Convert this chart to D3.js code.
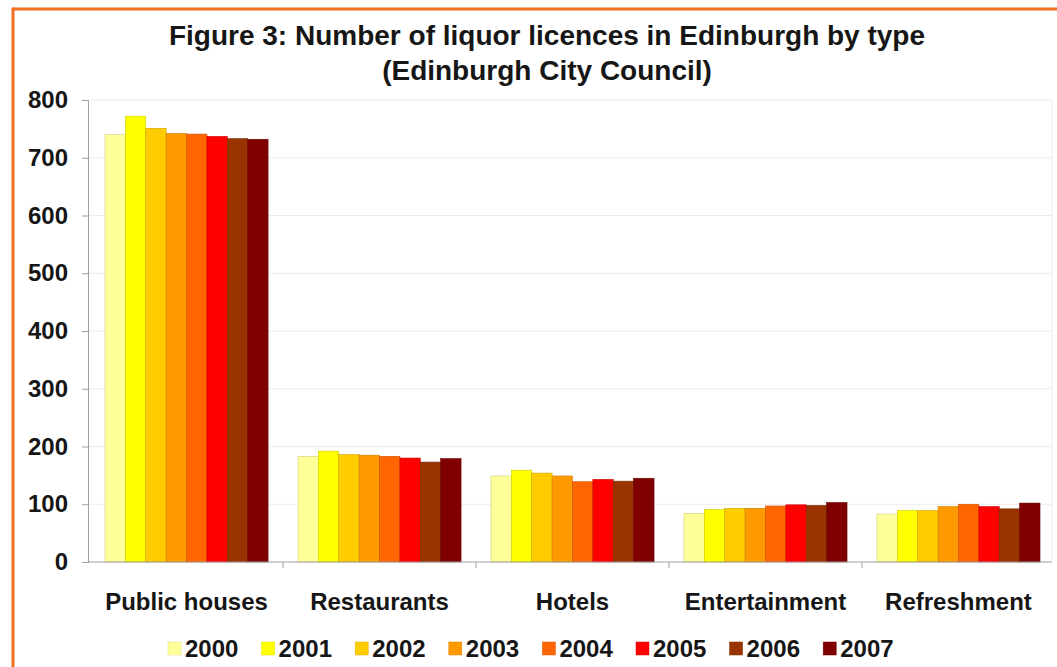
<!DOCTYPE html>
<html>
<head>
<meta charset="utf-8">
<script src="https://cdn.jsdelivr.net/npm/d3@7"></script>
<style>
  html, body { margin: 0; padding: 0; background: #ffffff; }
  svg { display: block; }
  text { font-family: "Liberation Sans", Arial, sans-serif; font-weight: bold; fill: #161616; }
</style>
</head>
<body>
<svg id="chart" width="1057" height="667"></svg>
<script>
// Licence types along the x axis
const categories = ["Public houses", "Restaurants", "Hotels", "Entertainment", "Refreshment"];
// Years shown as series
const years = ["2000", "2001", "2002", "2003", "2004", "2005", "2006", "2007"];
// Number of licences per type, one array per year (same order as categories)
const v2000 = [740, 183, 149, 84, 83];
const v2001 = [772, 192, 159, 91, 89];
const v2002 = [751, 186, 154, 93, 89];
const v2003 = [742, 185, 149, 93, 96];
const v2004 = [741, 183, 139, 97, 100];
const v2005 = [737, 180, 143, 99, 96];
const v2006 = [733, 173, 140, 98, 92];
const v2007 = [732, 179, 145, 103, 102];
const seriesValues = [v2000, v2001, v2002, v2003, v2004, v2005, v2006, v2007];
// Y axis ticks
const yTicks = [0, 100, 200, 300, 400, 500, 600, 700, 800];
const colors = ["#ffff99", "#ffff00", "#ffcc00", "#ff9900", "#ff6600", "#ff0000", "#993300", "#800000"];

const svg = d3.select("#chart");

// Orange page frame
svg.append("line").attr("x1", 13).attr("x2", 1057).attr("y1", 9).attr("y2", 9)
  .attr("stroke", "#f26f22").attr("stroke-width", 3);
svg.append("line").attr("x1", 13).attr("x2", 13).attr("y1", 7.5).attr("y2", 667)
  .attr("stroke", "#f26f22").attr("stroke-width", 3);

// Title
const title = svg.append("g").attr("text-anchor", "middle");
title.append("text").attr("x", 547).attr("y", 45).attr("font-size", 28)
  .text("Figure 3: Number of liquor licences in Edinburgh by type");
title.append("text").attr("x", 547).attr("y", 80).attr("font-size", 28)
  .text("(Edinburgh City Council)");

// Scales
const y = d3.scaleLinear().domain([0, 800]).range([562, 100]);
const x0 = d3.scaleBand().domain(categories).range([90, 1055])
  .paddingInner(0.155).paddingOuter(0.0777);
const x1 = d3.scaleBand().domain(years).range([0, x0.bandwidth()]);

// Gridlines
svg.append("g").selectAll("line").data(yTicks.filter(d => d > 0)).join("line")
  .attr("x1", 88).attr("x2", 1052)
  .attr("y1", d => y(d)).attr("y2", d => y(d))
  .attr("stroke", "#ececec").attr("stroke-width", 1);
svg.append("line").attr("x1", 1052).attr("x2", 1052).attr("y1", 100).attr("y2", 562)
  .attr("stroke", "#ececec");

// Bars
const groups = svg.append("g").selectAll("g").data(categories).join("g")
  .attr("transform", d => `translate(${x0(d)},0)`);
groups.selectAll("rect")
  .data((c, ci) => years.map((yr, yi) => ({ yr, yi, v: seriesValues[yi][ci] })))
  .join("rect")
  .attr("x", d => x1(d.yr))
  .attr("y", d => y(d.v))
  .attr("width", x1.bandwidth())
  .attr("height", d => y(0) - y(d.v))
  .attr("fill", d => colors[d.yi])
  .attr("stroke", d => d3.color(colors[d.yi]).darker(0.6))
  .attr("stroke-width", 0.6);

// Y axis
const yAxis = d3.axisLeft(y).tickValues(yTicks).tickSize(6).tickPadding(14);
const gy = svg.append("g").attr("transform", "translate(88,0)").call(yAxis);
gy.select(".domain").attr("stroke", "#a0a0a0");
gy.selectAll(".tick line").attr("stroke", "#a0a0a0");
gy.selectAll(".tick text").attr("font-size", 24)
  .attr("font-family", "Liberation Sans, Arial, sans-serif").attr("fill", "#161616");

// X axis with ticks on group boundaries
svg.append("line").attr("x1", 88).attr("x2", 1052).attr("y1", 562).attr("y2", 562)
  .attr("stroke", "#a0a0a0");
const bounds = categories.map(c => x0(c) - x0.step() * x0.paddingInner() / 2);
svg.append("g").selectAll("line").data(bounds.slice(1)).join("line")
  .attr("x1", d => d).attr("x2", d => d).attr("y1", 562).attr("y2", 568)
  .attr("stroke", "#a0a0a0");
svg.append("g").attr("text-anchor", "middle").selectAll("text").data(categories).join("text")
  .attr("x", d => x0(d) + x0.bandwidth() / 2).attr("y", 610)
  .attr("font-size", 24).text(d => d);

// Legend
const legend = svg.append("g").selectAll("g").data(years).join("g")
  .attr("transform", (d, i) => `translate(${168 + i * 93.6},0)`);
legend.append("rect").attr("x", 0).attr("y", 642).attr("width", 13).attr("height", 13)
  .attr("fill", (d, i) => colors[i])
  .attr("stroke", (d, i) => d3.color(colors[i]).darker(0.4)).attr("stroke-width", 0.5);
legend.append("text").attr("x", 17).attr("y", 657).attr("font-size", 24).text(d => d);
</script>
</body>
</html>
